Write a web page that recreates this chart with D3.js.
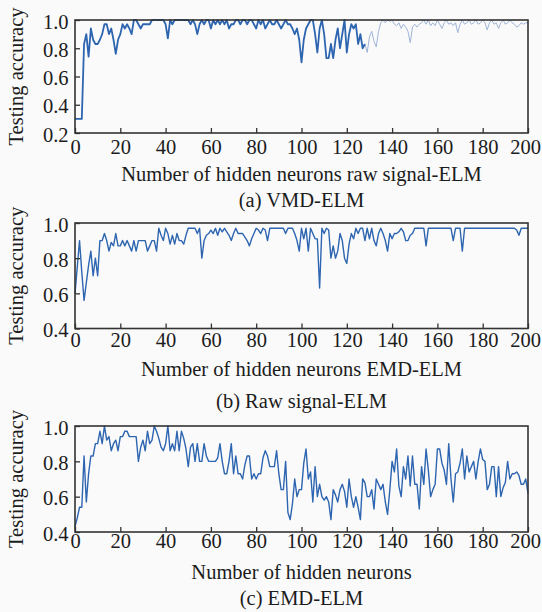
<!DOCTYPE html>
<html>
<head>
<meta charset="utf-8">
<script src="https://cdn.jsdelivr.net/npm/d3@7"></script>
<style>
  body { margin: 0; background: #fafafa; }
  svg { display: block; font-family: "Liberation Serif", "Times New Roman", serif; }
</style>
</head>
<body>
<div id="chart"></div>
<script>
// ---- data (testing accuracy vs number of hidden neurons) ----
// (a) VMD-ELM, bold part: neurons 0..128
const vmdElmBold = [
  0.30, 0.30, 0.30, 0.30, 0.83, 0.90, 0.74, 0.94, 0.86, 0.83,
  0.83, 0.86, 0.90, 0.97, 0.97, 0.90, 0.94, 0.86, 0.76, 0.86,
  0.90, 0.97, 0.94, 0.97, 0.94, 0.90, 1.00, 1.00, 0.97, 0.94,
  0.97, 0.97, 0.97, 0.97, 1.00, 1.00, 1.00, 1.00, 1.00, 1.00,
  0.97, 0.87, 1.00, 0.97, 1.00, 1.00, 1.00, 1.00, 1.00, 1.00,
  1.00, 0.97, 1.00, 0.97, 0.90, 0.97, 1.00, 0.97, 1.00, 1.00,
  0.94, 1.00, 0.97, 1.00, 0.97, 1.00, 0.97, 1.00, 0.94, 0.97,
  0.97, 1.00, 1.00, 0.97, 1.00, 1.00, 0.97, 1.00, 1.00, 0.97,
  0.94, 1.00, 0.97, 1.00, 0.94, 0.97, 1.00, 0.97, 0.97, 1.00,
  0.97, 0.94, 0.97, 1.00, 0.97, 0.97, 0.94, 0.90, 0.94, 0.86,
  0.70, 0.86, 0.94, 0.97, 1.00, 1.00, 0.90, 0.77, 0.94, 1.00,
  0.90, 0.73, 0.73, 0.83, 0.73, 0.86, 0.94, 0.80, 0.90, 1.00,
  0.77, 0.90, 0.97, 0.94, 0.97, 0.83, 0.90, 0.80, 0.83
];
// (a) faint part: neurons 128..200
const vmdElmFaintStart = 128;
const vmdElmFaint = [
  0.83, 0.77, 0.88, 0.92, 0.85, 0.81, 0.92, 0.98, 1.00, 0.98,
  1.00, 0.99, 1.00, 0.97, 0.96, 0.98, 0.94, 0.97, 0.95, 0.92,
  0.84, 0.95, 0.97, 0.95, 0.97, 0.98, 1.00, 0.97, 1.00, 0.96,
  0.98, 0.96, 1.00, 0.97, 0.94, 0.98, 1.00, 0.97, 0.98, 0.96,
  0.98, 0.91, 0.97, 1.00, 0.97, 0.98, 1.00, 0.97, 0.98, 1.00,
  0.97, 0.98, 1.00, 0.98, 0.93, 0.98, 1.00, 0.97, 0.98, 0.94,
  0.98, 1.00, 0.97, 0.98, 1.00, 0.98, 0.97, 0.95, 0.96, 0.98,
  0.97, 0.98, 0.98
];
// (b) Raw signal-ELM: neurons 0..200
const rawSignalElm = [
  0.60, 0.75, 0.90, 0.72, 0.56, 0.66, 0.76, 0.84, 0.70, 0.80,
  0.70, 0.90, 0.90, 0.94, 0.90, 0.84, 0.89, 0.87, 0.94, 0.87,
  0.87, 0.90, 0.87, 0.90, 0.87, 0.84, 0.90, 0.84, 0.90, 0.90,
  0.90, 0.90, 0.84, 0.87, 0.90, 0.90, 0.84, 0.97, 0.93, 0.90,
  0.97, 0.94, 0.88, 0.93, 0.88, 0.94, 0.90, 0.90, 0.88, 0.93,
  0.97, 0.97, 0.97, 0.97, 0.94, 0.97, 0.80, 0.90, 0.93, 0.94,
  0.96, 0.94, 0.97, 0.93, 0.97, 0.95, 0.97, 0.95, 0.93, 0.90,
  0.94, 0.97, 0.94, 0.94, 0.94, 0.92, 0.90, 0.87, 0.91, 0.94,
  0.97, 0.96, 0.94, 0.97, 0.96, 0.90, 0.97, 0.97, 0.97, 0.97,
  0.97, 0.97, 0.97, 0.94, 0.97, 0.97, 0.97, 0.94, 0.90, 0.84,
  0.97, 0.91, 0.97, 0.84, 0.97, 0.94, 0.91, 0.91, 0.63, 0.97,
  0.94, 0.97, 0.96, 0.80, 0.87, 0.80, 0.84, 0.94, 0.90, 0.80,
  0.77, 0.88, 0.94, 0.91, 0.97, 0.94, 0.97, 0.97, 0.90, 0.97,
  0.91, 0.97, 0.90, 0.87, 0.94, 0.97, 0.94, 0.90, 0.84, 0.94,
  0.91, 0.94, 0.94, 0.95, 0.97, 0.95, 0.90, 0.90, 0.93, 0.94,
  0.97, 0.97, 0.97, 0.97, 0.97, 0.87, 0.97, 0.97, 0.97, 0.97,
  0.97, 0.97, 0.97, 0.97, 0.97, 0.97, 0.97, 0.90, 0.97, 0.97,
  0.97, 0.84, 0.97, 0.97, 0.97, 0.97, 0.97, 0.97, 0.97, 0.97,
  0.97, 0.97, 0.97, 0.97, 0.97, 0.97, 0.97, 0.97, 0.97, 0.97,
  0.97, 0.97, 0.97, 0.97, 0.97, 0.96, 0.93, 0.97, 0.97, 0.97,
  0.97
];
// (c) EMD-ELM: neurons 0..200
const emdElm = [
  0.43, 0.48, 0.54, 0.54, 0.83, 0.57, 0.73, 0.83, 0.83, 0.90,
  0.90, 0.97, 0.90, 1.00, 0.92, 0.94, 0.86, 0.90, 0.92, 0.86,
  0.94, 0.94, 0.97, 0.97, 0.94, 0.94, 0.94, 0.94, 0.80, 0.88,
  0.92, 0.86, 0.97, 0.90, 0.92, 1.00, 0.97, 0.93, 0.88, 0.86,
  0.90, 1.00, 0.86, 0.90, 0.86, 0.97, 0.86, 0.97, 0.93, 0.87,
  0.77, 0.88, 0.90, 0.80, 0.90, 0.80, 0.80, 0.90, 0.83, 0.80,
  0.80, 0.80, 0.80, 0.82, 0.90, 0.80, 0.73, 0.73, 0.80, 0.90,
  0.73, 0.83, 0.73, 0.73, 0.70, 0.78, 0.83, 0.83, 0.70, 0.73,
  0.70, 0.73, 0.73, 0.82, 0.86, 0.83, 0.77, 0.77, 0.77, 0.86,
  0.73, 0.64, 0.64, 0.80, 0.51, 0.47, 0.56, 0.70, 0.60, 0.64,
  0.64, 0.79, 0.87, 0.70, 0.74, 0.57, 0.77, 0.60, 0.67, 0.60,
  0.58, 0.60, 0.57, 0.47, 0.64, 0.61, 0.57, 0.64, 0.67, 0.63,
  0.54, 0.70, 0.60, 0.54, 0.60, 0.54, 0.47, 0.70, 0.68, 0.60,
  0.60, 0.64, 0.53, 0.70, 0.67, 0.64, 0.67, 0.57, 0.50, 0.64,
  0.80, 0.74, 0.87, 0.66, 0.60, 0.77, 0.70, 0.83, 0.66, 0.83,
  0.67, 0.67, 0.53, 0.77, 0.67, 0.87, 0.75, 0.60, 0.64, 0.67,
  0.87, 0.87, 0.79, 0.75, 0.67, 0.90, 0.70, 0.57, 0.73, 0.74,
  0.79, 0.87, 0.70, 0.83, 0.74, 0.77, 0.80, 0.70, 0.80, 0.87,
  0.81, 0.80, 0.64, 0.67, 0.77, 0.77, 0.60, 0.77, 0.60, 0.65,
  0.68, 0.80, 0.70, 0.73, 0.73, 0.74, 0.72, 0.67, 0.67, 0.70,
  0.62
];

// ticks and labels
const xTickValues = [0, 20, 40, 60, 80, 100, 120, 140, 160, 180, 200];
const yTicksA = [0.2, 0.4, 0.6, 0.8, 1.0];
const yTicksBC = [0.4, 0.6, 0.8, 1.0];
const yTitle = "Testing accuracy";
const xTitles = ["Number of hidden neurons raw signal-ELM", "Number of hidden neurons EMD-ELM", "Number of hidden neurons"];
const captions = ["(a) VMD-ELM", "(b) Raw signal-ELM", "(c) EMD-ELM"];

// ---- layout ----
const width = 542, height = 612;
const plotLeft = 75, plotRight = 528;
const lineColor = "#2d65b0";
const faintColor = "#9fb4d8";
const inkColor = "#1c1c1c";
const fontSize = 20.5;
const serif = '"Liberation Serif", "Times New Roman", serif';

const toPoints = (values, start) => values.map((v, i) => ({ n: start + i, acc: v }));

const panels = [
  {
    top: 20, bottom: 133, yDomain: [0.2, 1.0], yTicks: yTicksA,
    tickBase: 153.5, titleBase: 180.5, captionBase: 207,
    series: [
      { points: toPoints(vmdElmFaint, vmdElmFaintStart), color: faintColor, width: 1 },
      { points: toPoints(vmdElmBold, 0), color: lineColor, width: 1.8 }
    ]
  },
  {
    top: 223, bottom: 328.5, yDomain: [0.4, 1.0], yTicks: yTicksBC,
    tickBase: 347, titleBase: 375.5, captionBase: 407.5,
    series: [{ points: toPoints(rawSignalElm, 0), color: lineColor, width: 1.4 }]
  },
  {
    top: 426, bottom: 532, yDomain: [0.4, 1.0], yTicks: yTicksBC,
    tickBase: 548, titleBase: 578.5, captionBase: 604.5,
    series: [{ points: toPoints(emdElm, 0), color: lineColor, width: 1.4 }]
  }
];

const svg = d3.select("#chart")
  .append("svg")
  .attr("width", width)
  .attr("height", height)
  .style("background", "#fafafa");

const x = d3.scaleLinear().domain([0, 200]).range([plotLeft, plotRight]);

panels.forEach((p, idx) => {
  const y = d3.scaleLinear().domain(p.yDomain).range([p.bottom, p.top]);
  const g = svg.append("g").attr("class", "panel-" + idx);

  // lines
  const line = d3.line().x(d => x(d.n)).y(d => y(d.acc));
  p.series.forEach(s => {
    g.append("path")
      .datum(s.points)
      .attr("fill", "none")
      .attr("stroke", s.color)
      .attr("stroke-width", s.width)
      .attr("stroke-linejoin", "round")
      .attr("d", line);
  });

  // bottom axis, ticks pointing inward
  const xAxis = g.append("g")
    .attr("transform", `translate(0,${p.bottom})`)
    .call(d3.axisBottom(x).tickValues(xTickValues).tickSizeInner(-5).tickSizeOuter(0).tickFormat(d3.format("d")));
  xAxis.attr("font-family", serif);
  xAxis.select(".domain").remove();
  xAxis.selectAll("line").attr("stroke", "#333").attr("stroke-width", 1.3);
  xAxis.selectAll("text")
    .attr("y", p.tickBase - p.bottom)
    .attr("dy", null)
    .attr("dx", d => d === 200 ? -3 : 0)
    .attr("fill", inkColor)
    .style("font-size", fontSize + "px");

  // left axis
  const yAxis = g.append("g")
    .attr("transform", `translate(${plotLeft},0)`)
    .call(d3.axisLeft(y).tickValues(p.yTicks).tickSizeInner(-5).tickSizeOuter(0).tickPadding(6.5).tickFormat(d3.format(".1f")));
  yAxis.attr("font-family", serif);
  yAxis.select(".domain").remove();
  yAxis.selectAll("line").attr("stroke", "#333").attr("stroke-width", 1.3);
  yAxis.selectAll("text")
    .attr("dy", "0.4em")
    .attr("fill", inkColor)
    .style("font-size", fontSize + "px");

  // frame
  g.append("rect")
    .attr("x", plotLeft)
    .attr("y", p.top)
    .attr("width", plotRight - plotLeft)
    .attr("height", p.bottom - p.top)
    .attr("fill", "none")
    .attr("stroke", "#333")
    .attr("stroke-width", 1.6);

  // y title
  g.append("text")
    .attr("transform", `translate(23,${(p.top + p.bottom) / 2}) rotate(-90)`)
    .attr("text-anchor", "middle")
    .attr("fill", inkColor)
    .style("font-size", fontSize + "px")
    .text(yTitle);

  // x title and caption
  const cx = (plotLeft + plotRight) / 2;
  g.append("text")
    .attr("x", cx)
    .attr("y", p.titleBase)
    .attr("text-anchor", "middle")
    .attr("fill", inkColor)
    .style("font-size", fontSize + "px")
    .text(xTitles[idx]);
  g.append("text")
    .attr("x", cx)
    .attr("y", p.captionBase)
    .attr("text-anchor", "middle")
    .attr("fill", inkColor)
    .style("font-size", fontSize + "px")
    .text(captions[idx]);
});
</script>
</body>
</html>
